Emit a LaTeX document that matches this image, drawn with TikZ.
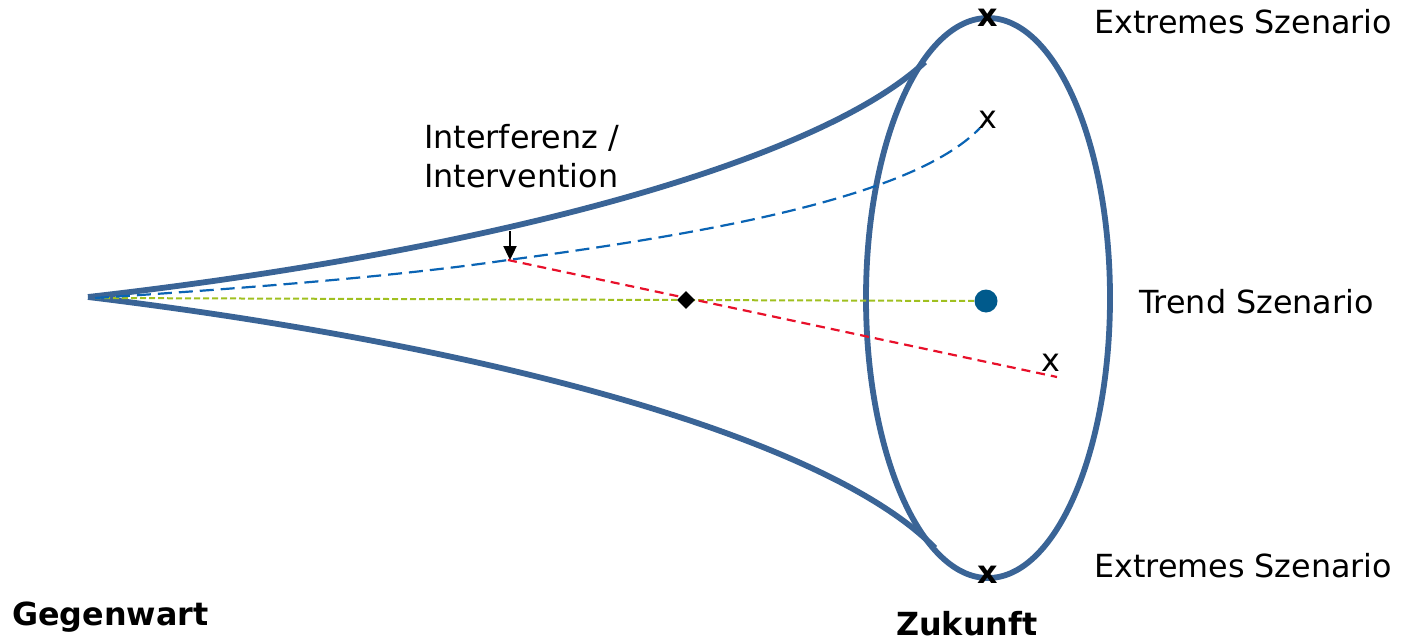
\documentclass[tikz,border=0pt]{standalone}
\usepackage{fontspec}
\setmainfont{DejaVu Sans}
\usetikzlibrary{arrows.meta,shapes.geometric}
\definecolor{funnel}{HTML}{3A6496}
\definecolor{bluedash}{HTML}{0A64B4}
\definecolor{reddash}{HTML}{E8102A}
\definecolor{greendash}{HTML}{A0C020}
\definecolor{dotblue}{HTML}{005A8C}
\tikzset{
  lbl/.style={font=\fontsize{31.8}{38}\selectfont, inner sep=0pt, anchor=base west, align=left},
  blbl/.style={font=\fontsize{31.8}{38}\selectfont\bfseries, inner sep=0pt, anchor=base west},
  xmark/.style={font=\fontsize{31.8}{38}\selectfont, inner sep=0pt},
  bxmark/.style={font=\fontsize{31.8}{38}\selectfont\bfseries, inner sep=0pt},
  funnelline/.style={draw=funnel, line width=5.8pt},
}
\begin{document}
\begin{tikzpicture}[x=1pt,y=-1pt]
\useasboundingbox (0,0) rectangle (1401,642);
% coordinates
\coordinate (apex) at (88,297);
\coordinate (utop) at (925,62);
\coordinate (ubot) at (935,548);
\coordinate (bstart) at (95,298);
\coordinate (interv) at (508,260);
\coordinate (bend) at (980,128);
\coordinate (rend) at (1057,377);
\coordinate (gend) at (975,301);
\coordinate (arrtop) at (510,231);
% ellipse
\node[ellipse, funnelline, minimum width=244pt, minimum height=560pt, inner sep=0pt] (ell) at (988,298) {};
% funnel
\draw[funnelline] (apex) .. controls (500,250) and (820,160) .. (utop);
\draw[funnelline] (apex) .. controls (500,347) and (830,440) .. (ubot);
% scenario lines
\draw[greendash, line width=2pt, dash pattern=on 6pt off 3pt] (bstart) -- (gend);
\draw[bluedash, line width=2.2pt, dash pattern=on 14pt off 7pt] (bstart) .. controls (250,288) and (400,276) .. (interv) .. controls (750,228) and (920,190) .. (bend);
\draw[reddash, line width=2.2pt, dash pattern=on 9pt off 6pt] (interv) -- (rend);
% markers
\node[diamond, fill=black, inner sep=0pt, minimum size=18pt] (dia) at (686,300) {};
\node[circle, fill=dotblue, inner sep=0pt, minimum size=23pt] (dot) at (986,301) {};
\draw[-{Triangle[length=14pt,width=13pt]}, line width=2.4pt] (arrtop) -- (interv -| arrtop);
% x marks
\node[bxmark] (xtop) at (988,18) {x};
\node[bxmark] (xbot) at (988,575) {x};
\node[xmark] (xblue) at (988,120) {x};
\node[xmark] (xred) at (1051,363) {x};
% labels
\node[lbl] (ext1) at (1094,34) {Extremes Szenario};
\node[lbl] (ext2) at (1094,577) {Extremes Szenario};
\node[lbl] (trend) at (1139,313) {Trend Szenario};
\node[lbl] (interf) at (424,148) {Interferenz /};
\node[lbl] (interv2) at (424,187) {Intervention};
\node[blbl] (gegen) at (12,625) {Gegenwart};
\node[blbl] (zuk) at (896,635) {Zukunft};
\end{tikzpicture}
\end{document}
